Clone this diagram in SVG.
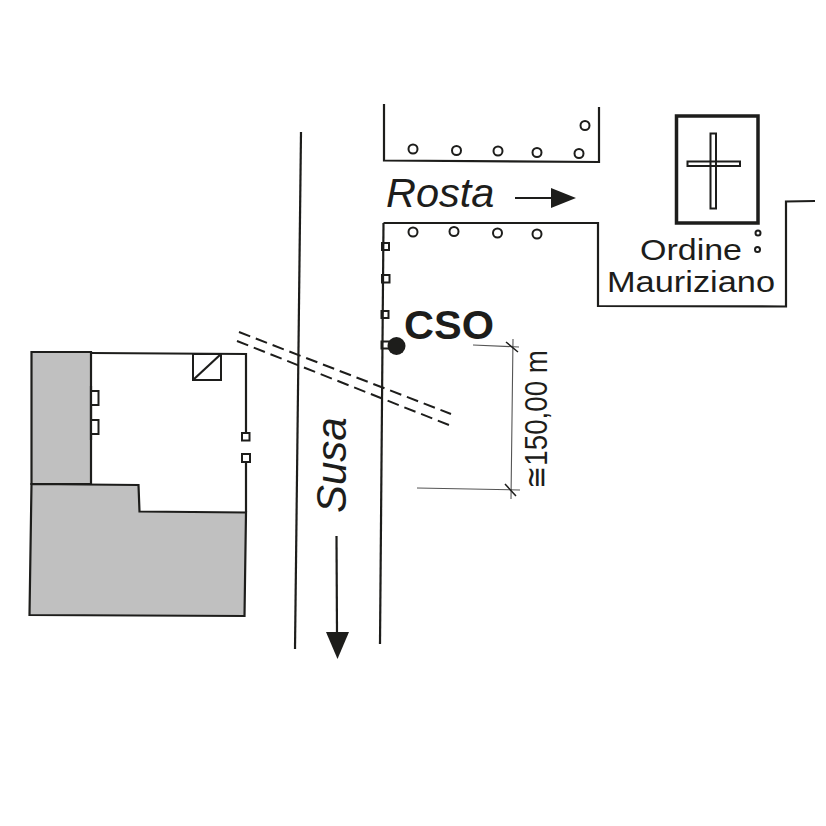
<svg xmlns="http://www.w3.org/2000/svg" width="826" height="826" viewBox="0 0 826 826">
<style>
.l{fill:none;stroke:#1d1d1b;stroke-width:2.200}
.c{fill:#fff;stroke:#1d1d1b;stroke-width:2}
.s{fill:#fff;stroke:#1d1d1b;stroke-width:2}
.g{fill:#c0c0c0;stroke:#1d1d1b;stroke-width:2.200}
.d{fill:none;stroke:#1d1d1b;stroke-width:2;stroke-dasharray:12 6}
.h{fill:none;stroke:#555;stroke-width:1.100}
.x{font-family:"Liberation Sans",Arial,sans-serif;fill:#1d1d1b}
</style>
<rect width="826" height="826" fill="#fff"/>
<g id="building">
<path class="l" d="M91 353L246 354V437M246 458V512"/>
<path class="g" d="M31.500 352H91V484H31.500Z"/>
<path class="g" d="M31.500 484L138.500 485L139.500 511.500L246 512.500L244.500 616L29.500 615Z"/>
<rect class="s" x="193" y="354" width="28" height="26"/>
<path class="l" d="M193 380L221 354"/>
<rect class="s" x="91" y="391" width="7.500" height="14"/>
<rect class="s" x="91" y="420" width="7.500" height="14"/>
<path class="l" d="M91 386V440"/>
<rect class="s" x="242" y="433" width="7.500" height="7.500"/>
<rect class="s" x="242" y="454" width="8" height="8"/>
</g>
<g id="ponds">
<circle class="c" cx="413" cy="149" r="4.500"/>
<circle class="c" cx="456.500" cy="150.500" r="4.500"/>
<circle class="c" cx="498" cy="151" r="4.500"/>
<circle class="c" cx="537" cy="152.500" r="4.500"/>
<circle class="c" cx="579" cy="153.500" r="4.500"/>
<circle class="c" cx="585" cy="125.500" r="4.500"/>
<circle class="c" cx="413" cy="232" r="4.500"/>
<circle class="c" cx="454" cy="231.500" r="4.500"/>
<circle class="c" cx="497.500" cy="233" r="4.500"/>
<circle class="c" cx="537" cy="234" r="4.500"/>
<circle class="c" cx="758" cy="233" r="2.500"/>
<circle class="c" cx="757.500" cy="249.500" r="2.500"/>
<rect class="s" x="382" y="243" width="7" height="7"/>
<rect class="s" x="382" y="275" width="7.500" height="7.500"/>
<rect class="s" x="381.500" y="311" width="7" height="7"/>
<rect class="s" x="381.500" y="341.500" width="8" height="7"/>
</g>
<g id="connectors">
<path class="l" d="M301 132L295 649"/>
<path class="l" d="M383.500 223L380 644"/>
<path class="l" d="M384 104V160.500L599 162V107"/>
<path class="l" d="M383.500 223H598V306L786 306.500V201.500L815 201"/>
<path class="d" d="M239 332L451 414"/>
<path class="d" d="M237 341L449 425"/>
<path class="h" d="M473 345L519 347M513 339L511 499M417 488L520 490"/>
<path class="l" d="M506 342L518 352M505 484L516 496" style="stroke-width:1.500"/>
<path class="l" d="M515 198H552"/>
<path d="M551 188L576 198L551 208Z" fill="#1d1d1b"/>
<path class="l" d="M336.500 536L337 634"/>
<path d="M326 632H349L337.500 659Z" fill="#1d1d1b"/>
</g>
<g id="cso">
<circle cx="396.500" cy="346" r="9" fill="#1d1d1b"/>
<text class="x" x="404" y="339" font-size="41.500" font-weight="700">CSO</text>
</g>
<g id="cemetery">
<rect x="676.500" y="116" width="81.500" height="107" fill="#fff" stroke="#1d1d1b" stroke-width="3.500"/>
<rect class="s" x="710.500" y="133.500" width="5.500" height="75"/>
<rect class="s" x="687.500" y="161.500" width="52.500" height="4.500"/>
<path class="s" d="M710.500 161.500V166M716 161.500V166"/>
<text class="x" x="640" y="259.500" font-size="29" textLength="102" lengthAdjust="spacingAndGlyphs">Ordine</text>
<text class="x" x="607" y="292" font-size="29" textLength="168" lengthAdjust="spacingAndGlyphs">Mauriziano</text>
</g>
<g id="labels">
<text class="x" x="386" y="206.500" font-size="41.500" font-style="italic">Rosta</text>
<text class="x" transform="translate(346 513) rotate(-90)" font-size="42" font-style="italic">Susa</text>
<text class="x" transform="translate(547 489) rotate(-90)" font-size="31" textLength="139" lengthAdjust="spacingAndGlyphs">≅150,00 m</text>
</g>
</svg>
